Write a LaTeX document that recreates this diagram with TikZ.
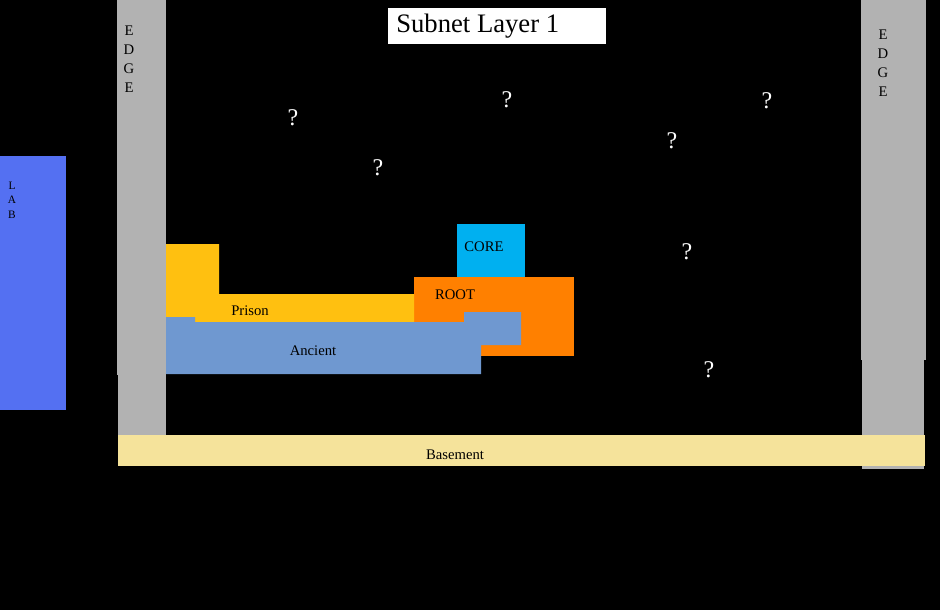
\documentclass[tikz,border=0pt]{standalone}
\usepackage{fontspec}
\setmainfont{Liberation Serif}

\definecolor{edgegray}{RGB}{178,178,178}
\definecolor{basecol}{RGB}{245,227,155}
\definecolor{labblue}{RGB}{84,112,242}
\definecolor{prisoncol}{RGB}{255,192,16}
\definecolor{rootcol}{RGB}{255,128,0}
\definecolor{ancientcol}{RGB}{111,152,208}
\definecolor{corecol}{RGB}{0,176,240}

\begin{document}
\begin{tikzpicture}[x=0.75pt, y=-0.75pt,
    lbl/.style={text=black, inner sep=0pt, font=\fontsize{11}{12}\selectfont},
    letters/.style={lbl, align=center, font=\fontsize{11}{14.25}\selectfont},
    qmark/.style={text=white, inner sep=0pt, font=\fontsize{18}{20}\selectfont}]

    % background
    \fill[black] (0, 0) rectangle (940, 610);
    \useasboundingbox (0, 0) rectangle (940, 610);

    % edges and lab
    \fill[edgegray] (117, 0) rectangle (166, 375);
    \fill[edgegray] (118, 375) rectangle (166, 435);
    \fill[edgegray] (861, 0) rectangle (926, 360);
    \fill[edgegray] (862, 360) rectangle (924, 469);
    \fill[labblue] (0, 156) rectangle (66, 410);

    % basement
    \fill[basecol] (118, 435) rectangle (925, 466);

    % root, prison, ancient, core
    \fill[rootcol] (414, 277) rectangle (574, 356);
    \fill[prisoncol] (166, 244) -- (219, 244) -- (219, 294) -- (414, 294) -- (414, 322) -- (166, 322) -- cycle;
    \fill[ancientcol] (166, 317) -- (195, 317) -- (195, 322) -- (464, 322) -- (464, 312) -- (521, 312)
        -- (521, 345) -- (481, 345) -- (481, 374) -- (166, 374) -- cycle;
    \fill[corecol] (457, 224) rectangle (525, 277);

    % title
    \fill[white] (388, 8) rectangle (606, 44);
    \node[lbl, anchor=base west, font=\fontsize{20}{22}\selectfont] (title) at (396, 33) {Subnet Layer 1};

    % labels
    \node[letters] (edgeL) at (129, 59.5) {E\\D\\G\\E};
    \node[letters] (edgeR) at (883, 63.5) {E\\D\\G\\E};
    \node[lbl, align=center, font=\fontsize{8.5}{10.9}\selectfont] (lab) at (12, 200) {L\\A\\B};
    \node[lbl] (basement) at (455, 455) {Basement};
    \node[lbl] (prison) at (250, 311) {Prison};
    \node[lbl] (ancient) at (313, 351) {Ancient};
    \node[lbl] (root) at (455, 295) {ROOT};
    \node[lbl] (core) at (484, 247) {CORE};

    % unknown hosts
    \node[qmark] (q1) at (293, 118) {?};
    \node[qmark] (q2) at (507, 100) {?};
    \node[qmark] (q3) at (767, 101) {?};
    \node[qmark] (q4) at (672, 141) {?};
    \node[qmark] (q5) at (378, 168) {?};
    \node[qmark] (q6) at (687, 252) {?};
    \node[qmark] (q7) at (709, 370) {?};

\end{tikzpicture}
\end{document}
